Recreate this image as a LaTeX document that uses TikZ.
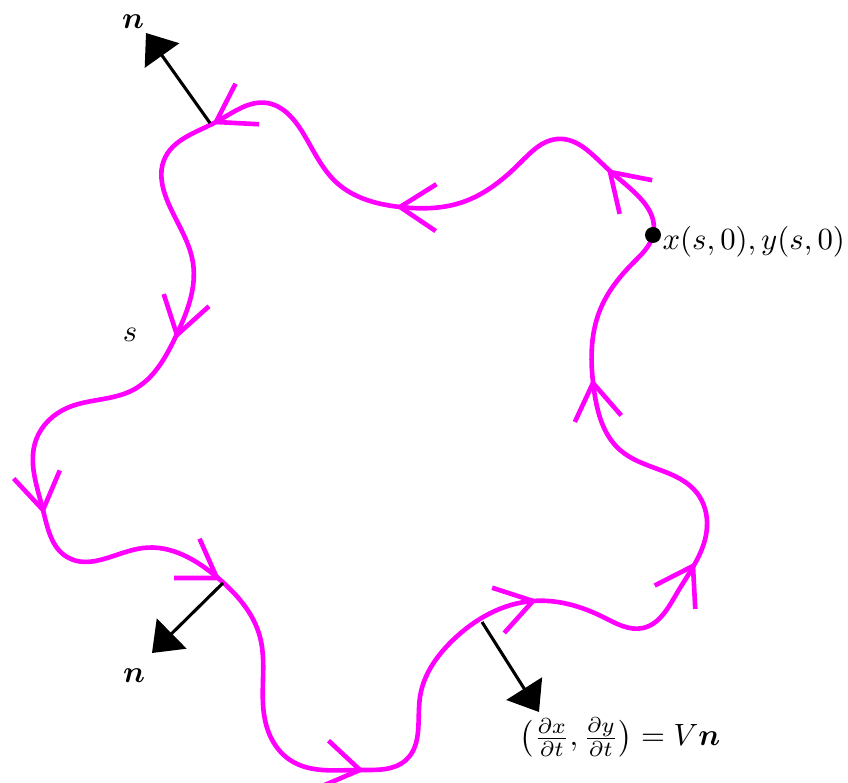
\documentclass[tikz,border=0pt]{standalone}
\usepackage{amsmath}
\usetikzlibrary{arrows.meta,hobby}
\definecolor{mag}{RGB}{255,0,255}
\tikzset{
  curve/.style={draw=mag, line width=1.5pt},
  vhead/.style={draw=mag, line width=1.5pt},
  normal/.style={draw=black, line width=1pt, -{Triangle[length=9pt,width=13.6pt]}},
  lbl/.style={inner sep=0pt, font=\normalsize}
}
\newcommand{\myhead}[2]{\draw[vhead] (#1) ++({#2+180-33}:43) -- (#1) -- ++({#2+180+33}:43);}
\begin{document}
\begin{tikzpicture}[x=0.325pt, y=-0.325pt]
\useasboundingbox (0,0) rectangle (848,783);
\draw[curve] plot[closed hobby] coordinates {
(653,235) (610,171) (557,139) (520,163) (463,202) (400,207) (337,183) (303,133) (267,103) (216,122) (164,160) (167,200) (193,263) (176,336) (133,390) (67,408) (36,440) (43,510) (67,557) (143,548) (218,578) (260,637) (265,720) (290,760) (360,770) (406,760) (420,697) (453,640) (533,601) (603,617) (643,628) (677,593) (707,527) (697,493) (620,450) (594,390) (600,310) (633,263)};
% arrow tips on the curve
\coordinate (h1) at (610,172);
\coordinate (h2) at (400,207);
\coordinate (h3) at (216,122);
\coordinate (h4) at (177,335);
\coordinate (h5) at (43,510);
\coordinate (h6) at (217,578);
\coordinate (h7) at (360,770);
\coordinate (h8) at (533,601);
\coordinate (h9) at (693,566);
\coordinate (h10) at (593,383);
\myhead{h1}{224}
\myhead{h2}{181}
\myhead{h3}{150}
\myhead{h4}{105}
\myhead{h5}{80}
\myhead{h6}{33}
\myhead{h7}{10}
\myhead{h8}{-15}
\myhead{h9}{-60}
\myhead{h10}{-98}
% normals
\coordinate (n1s) at (210,123);
\coordinate (n1e) at (146,33);
\coordinate (n2s) at (223,583);
\coordinate (n2e) at (152,653);
\coordinate (n3s) at (482,622);
\coordinate (n3e) at (539,712);
\draw[normal] (n1s) -- (n1e);
\draw[normal] (n2s) -- (n2e);
\draw[normal] (n3s) -- (n3e);
% start point
\coordinate (p0) at (653,235);
\fill[black] (p0) circle[radius=8];
% labels
\node[lbl] (ltop) at (133,22) {$\boldsymbol{n}$};
\node[lbl] (lbot) at (134,676) {$\boldsymbol{n}$};
\node[lbl] (ls) at (130,335) {$s$};
\node[lbl, anchor=west] (lxy) at (662,242) {$x(s,0),y(s,0)$};
\node[lbl] (leq) at (620,737) {$\bigl(\frac{\partial x}{\partial t},\frac{\partial y}{\partial t}\bigr)=V\boldsymbol{n}$};
\end{tikzpicture}
\end{document}
